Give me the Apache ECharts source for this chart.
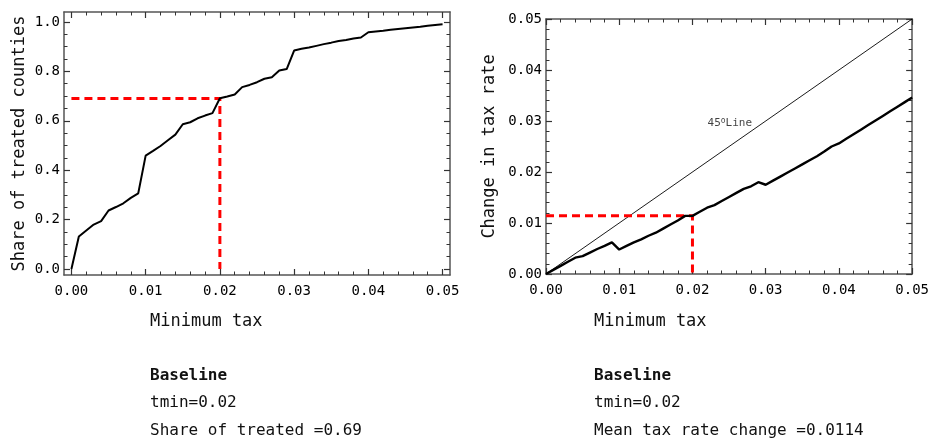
<!DOCTYPE html>
<html>
<head>
<meta charset="utf-8">
<script src="https://cdn.jsdelivr.net/npm/echarts@6/dist/echarts.min.js"></script>
<style>html,body{margin:0;padding:0;background:#fff;}#c{width:932px;height:439px;}</style>
</head>
<body>
<div id="c"></div>
<script>
// ---- data ----
const minTax = [0,0.001,0.002,0.003,0.004,0.005,0.006,0.007,0.008,0.009,
  0.010,0.011,0.012,0.013,0.014,0.015,0.016,0.017,0.018,0.019,
  0.020,0.021,0.022,0.023,0.024,0.025,0.026,0.027,0.028,0.029,
  0.030,0.031,0.032,0.033,0.034,0.035,0.036,0.037,0.038,0.039,
  0.040,0.041,0.042,0.043,0.044,0.045,0.046,0.047,0.048,0.049,0.050];
const shareTreated = [0,0.132,0.156,0.180,0.194,0.237,0.251,0.266,0.288,0.306,
  0.459,0.478,0.498,0.521,0.544,0.586,0.594,0.610,0.621,0.631,
  0.691,0.698,0.706,0.736,0.745,0.756,0.770,0.776,0.803,0.809,
  0.884,0.891,0.896,0.903,0.910,0.916,0.923,0.927,0.933,0.937,
  0.958,0.961,0.964,0.968,0.971,0.974,0.977,0.980,0.984,0.987,0.990];
const taxChange = [0,0.0008,0.0016,0.0024,0.0032,0.0035,0.0042,0.0049,0.0055,0.0062,
  0.0048,0.0055,0.0062,0.0068,0.0075,0.0081,0.0089,0.0097,0.0105,0.0114,
  0.0114,0.0122,0.0130,0.0135,0.0143,0.0151,0.0159,0.0167,0.0172,0.0180,
  0.0175,0.0183,0.0191,0.0199,0.0207,0.0215,0.0223,0.0231,0.0240,0.0250,
  0.0256,0.0265,0.0274,0.0283,0.0292,0.0301,0.0310,0.0319,0.0328,0.0337,0.0346];
const line45 = [[0,0],[0.05,0.05]];
const tmin = 0.02;
const shareAtTmin = 0.69;
const meanChange = 0.0114;
const xTicks = [0,0.01,0.02,0.03,0.04,0.05];
const yTicksLeft = [0,0.2,0.4,0.6,0.8,1.0];
const yTicksRight = [0,0.01,0.02,0.03,0.04,0.05];

// minor tick positions
function minors(start, end, step, majorStep) {
  const out = [];
  const n = Math.round((end - start) / step);
  for (let i = 0; i <= n; i++) {
    const v = +(start + i * step).toFixed(6);
    const r = v / majorStep;
    if (Math.abs(r - Math.round(r)) > 1e-6) out.push(v);
  }
  return out;
}
const xMinor = minors(0, 0.05, 0.002, 0.01);
const yMinorLeft = minors(0, 1.0, 0.05, 0.2);
const yMinorRight = minors(0, 0.05, 0.002, 0.01);

const MONO = "'DejaVu Sans Mono', monospace";
const FRAME = '#555';
const TICK = '#333';

function axisSet(kind, grid, min, max, majors, minorVals, labelFmt, extra) {
  const pos = kind === 'x' ? ['bottom', 'top'] : ['left', 'right'];
  const arr = [];
  pos.forEach((p, pi) => {
    // major
    arr.push(Object.assign({
      type: 'value', gridIndex: grid, position: p, min: min, max: max,
      axisLine: { show: true, onZero: false, lineStyle: { color: FRAME, width: 1.5 } },
      axisTick: { show: true, inside: true, length: 6, customValues: majors, lineStyle: { color: TICK, width: 1.2 } },
      axisLabel: pi === 0 ? { show: true, customValues: majors, formatter: labelFmt, fontFamily: MONO, fontSize: 14, color: '#000', margin: kind === 'x' ? 9 : 4 } : { show: false },
      splitLine: { show: false }
    }, pi === 0 ? (extra || {}) : {}));
    // minor
    arr.push({
      type: 'value', gridIndex: grid, position: p, min: min, max: max,
      axisLine: { show: false, onZero: false },
      axisTick: { show: true, inside: true, length: 3.5, customValues: minorVals, lineStyle: { color: TICK, width: 1 } },
      axisLabel: { show: false },
      splitLine: { show: false }
    });
  });
  return arr;
}

const xAxes = [].concat(
  axisSet('x', 0, -0.001, 0.051, xTicks, xMinor, v => v.toFixed(2)),
  axisSet('x', 1, 0, 0.05, xTicks, xMinor, v => v.toFixed(2))
);
const yAxes = [].concat(
  axisSet('y', 0, -0.024, 1.04, yTicksLeft, yMinorLeft, v => v.toFixed(1), {
    name: 'Share of treated counties', nameLocation: 'middle', nameGap: 36,
    nameTextStyle: { fontFamily: MONO, fontSize: 17, color: '#111' }
  }),
  axisSet('y', 1, 0, 0.05, yTicksRight, yMinorRight, v => v.toFixed(2), {
    name: 'Change in tax rate', nameLocation: 'middle', nameGap: 48,
    nameTextStyle: { fontFamily: MONO, fontSize: 17, color: '#111' }
  })
);

const zip = (a, b) => a.map((v, i) => [v, b[i]]);
const redStyle = { color: '#f00', width: 3, type: [8, 5] };

const txt = (text, left, top, size, bold) => ({
  text: text, left: left, top: top, padding: 0,
  textStyle: { fontFamily: MONO, fontSize: size, fontWeight: bold ? 'bold' : 'normal', color: '#111' }
});

const option = {
  animation: false,
  backgroundColor: '#fff',
  title: [
    txt('Minimum tax', 150, 313, 17),
    txt('Minimum tax', 594, 313, 17),
    txt('Baseline', 150, 368, 16, true),
    txt('tmin=0.02', 150, 395, 16),
    txt('Share of treated =' + shareAtTmin, 150, 423, 16),
    txt('Baseline', 594, 368, 16, true),
    txt('tmin=0.02', 594, 395, 16),
    txt('Mean tax rate change =' + meanChange, 594, 423, 16)
  ],
  grid: [
    { left: 64, top: 12, width: 386, height: 263 },
    { left: 546, top: 19, width: 369, height: 255 }
  ],
  xAxis: xAxes,
  yAxis: yAxes,
  series: [
    { type: 'line', xAxisIndex: 0, yAxisIndex: 0, showSymbol: false, symbol: 'none', z: 2,
      data: [[0, shareAtTmin], [tmin, shareAtTmin], [tmin, 0]], lineStyle: redStyle },
    { type: 'line', xAxisIndex: 0, yAxisIndex: 0, showSymbol: false, symbol: 'none', z: 3,
      data: zip(minTax, shareTreated), lineStyle: { color: '#000', width: 2 } },
    { type: 'line', xAxisIndex: 4, yAxisIndex: 4, showSymbol: false, symbol: 'none', z: 2,
      data: line45, lineStyle: { color: '#000', width: 0.9 } },
    { type: 'line', xAxisIndex: 4, yAxisIndex: 4, showSymbol: false, symbol: 'none', z: 2,
      data: [[0, meanChange], [tmin, meanChange], [tmin, 0]], lineStyle: redStyle },
    { type: 'line', xAxisIndex: 4, yAxisIndex: 4, showSymbol: false, symbol: 'none', z: 3,
      data: zip(minTax, taxChange), lineStyle: { color: '#000', width: 2.4 } },
    { type: 'scatter', xAxisIndex: 4, yAxisIndex: 4, symbolSize: 0, z: 4,
      data: [[0.0251, 0.0295]],
      label: { show: true, position: 'inside',
        formatter: '{a|45}{s|o}{a|Line}',
        rich: {
          a: { fontFamily: MONO, fontSize: 11, color: '#111' },
          s: { fontFamily: MONO, fontSize: 8, color: '#111', verticalAlign: 'top', padding: [0, 0, 6, 0] }
        } } }
  ]
};
echarts.init(document.getElementById('c'), null, { renderer: 'canvas' }).setOption(option);
</script>
</body>
</html>
